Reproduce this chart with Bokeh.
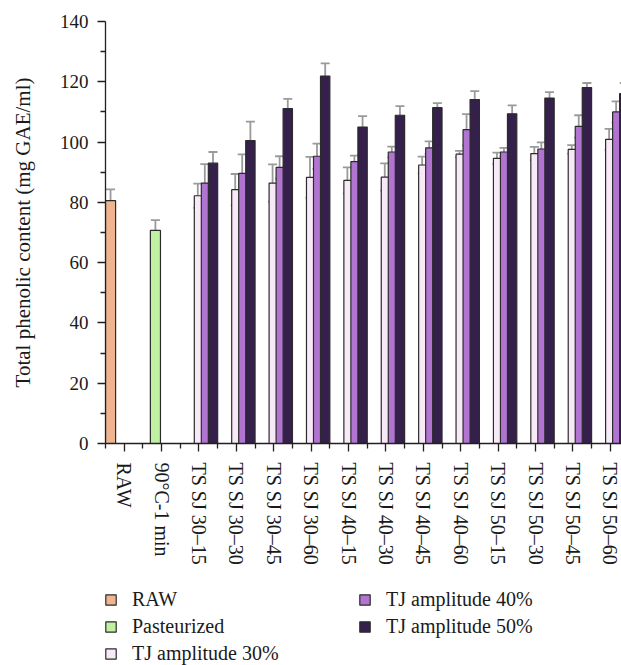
from bokeh.plotting import figure
from bokeh.layouts import column
from bokeh.models import (ColumnDataSource, FixedTicker, Range1d, Whisker,
                          TeeHead, Legend, LegendItem)
from bokeh.embed import file_html
from bokeh.resources import INLINE

# ---------------- data ----------------
categories = ["RAW", "90°C-1 min",
              "TS SJ 30–15", "TS SJ 30–30", "TS SJ 30–45", "TS SJ 30–60",
              "TS SJ 40–15", "TS SJ 40–30", "TS SJ 40–45", "TS SJ 40–60",
              "TS SJ 50–15", "TS SJ 50–30", "TS SJ 50–45", "TS SJ 50–60"]

raw_value = [80.6]
raw_err = [3.7]
past_value = [70.7]
past_err = [3.4]
tj30 = [82.2, 84.2, 86.4, 88.3, 87.3, 88.4, 92.4, 96.0, 94.6, 96.2, 97.6, 100.9]
tj30_err = [4.0, 5.2, 6.2, 6.8, 4.3, 4.5, 2.8, 1.1, 1.9, 2.2, 1.4, 3.5]
tj40 = [86.4, 89.6, 91.6, 95.3, 93.5, 96.7, 98.1, 104.1, 96.7, 97.7, 105.2, 110.0]
tj40_err = [6.3, 6.3, 3.7, 4.2, 2.0, 1.8, 2.1, 5.2, 1.4, 2.2, 3.7, 3.5]
tj50 = [93.0, 100.5, 111.1, 121.9, 105.0, 108.9, 111.4, 114.1, 109.4, 114.6, 118.1, 116.1]
tj50_err = [3.7, 6.3, 3.2, 4.2, 3.6, 3.0, 1.5, 2.8, 2.8, 2.0, 1.5, 3.5]

y_ticks = [0, 20, 40, 60, 80, 100, 120, 140]

series_names = ["RAW", "Pasteurized", "TJ amplitude 30%", "TJ amplitude 40%", "TJ amplitude 50%"]
colors = ["#EFB590", "#C0F1A2", "#F8E9F8", "#B274D1", "#34204A"]

# ---------------- layout of slots ----------------
# (left offset in category, bar width, visible width)
slots = [(0.0, 0.27, 0.27), (0.2, 0.27, 0.27),
         (0.375, 0.25, 0.1875), (0.5625, 0.25, 0.1875), (0.75, 0.25, 0.25)]
series = [
    ([0], raw_value, raw_err),
    ([1], past_value, past_err),
    (list(range(2, 14)), tj30, tj30_err),
    (list(range(2, 14)), tj40, tj40_err),
    (list(range(2, 14)), tj50, tj50_err),
]

FONT = "Liberation Serif"
TXT = "#1a1a1a"
AX = "#231F20"
OUTLINE = "#2b2b2b"

p = figure(width=621, height=575, output_backend="svg", toolbar_location=None,
           x_range=Range1d(0, 13.8), y_range=Range1d(0, 140),
           min_border_left=105, min_border_right=0, min_border_top=21,
           min_border_bottom=132)
p.outline_line_color = None
p.xgrid.visible = False
p.ygrid.visible = False

for (idx, vals, errs), (left, w, vis), col in zip(series, slots, colors):
    xs = [i + left + w / 2 for i in idx]
    src = ColumnDataSource(dict(x=xs, top=vals))
    p.vbar(x="x", top="top", bottom=0, width=w, source=src,
           fill_color=col, line_color=OUTLINE, line_width=1.2)

for (idx, vals, errs), (left, w, vis) in zip(series, slots):
    ex = [i + left + vis / 2 for i in idx]
    esrc = ColumnDataSource(dict(base=ex,
                                 upper=[v + e for v, e in zip(vals, errs)],
                                 lower=[v - e for v, e in zip(vals, errs)]))
    wh = Whisker(base="base", upper="upper", lower="lower", source=esrc,
                 line_color="#9a9a9a", line_width=1.8,
                 upper_head=TeeHead(size=9, line_color="#9a9a9a", line_width=1.8),
                 lower_head=TeeHead(size=9, line_color="#9a9a9a", line_width=1.8))
    p.add_layout(wh)

# ---------------- axes ----------------
xa = p.xaxis[0]
xa.ticker = FixedTicker(ticks=[i + 0.5 for i in range(len(categories))],
                        minor_ticks=[i for i in range(len(categories) + 1)])
xa.major_label_overrides = {i + 0.5: c for i, c in enumerate(categories)}
xa.major_label_orientation = "vertical"
xa.major_label_text_font = FONT
xa.major_label_text_font_size = "20px"
xa.major_label_text_color = TXT
xa.major_label_standoff = 11
xa.major_tick_in = 0
xa.major_tick_out = 8
xa.minor_tick_in = 0
xa.minor_tick_out = 5
xa.axis_line_color = AX
xa.major_tick_line_color = AX
xa.minor_tick_line_color = AX
xa.axis_line_width = 1.3
xa.major_tick_line_width = 1.3
xa.minor_tick_line_width = 1.3

ya = p.yaxis[0]
ya.ticker = FixedTicker(ticks=y_ticks, minor_ticks=[t + 10 for t in y_ticks[:-1]])
ya.major_label_text_font = FONT
ya.major_label_text_font_size = "19px"
ya.major_label_text_color = TXT
ya.major_label_standoff = 9
ya.major_tick_in = 0
ya.major_tick_out = 8
ya.minor_tick_in = 0
ya.minor_tick_out = 5
ya.axis_line_color = AX
ya.major_tick_line_color = AX
ya.minor_tick_line_color = AX
ya.axis_line_width = 1.3
ya.major_tick_line_width = 1.3
ya.minor_tick_line_width = 1.3
ya.axis_label = "Total phenolic content (mg GAE/ml)"
ya.axis_label_text_font = FONT
ya.axis_label_text_font_size = "21px"
ya.axis_label_text_font_style = "normal"
ya.axis_label_text_color = TXT
ya.axis_label_standoff = 22

# ---------------- legend panel (separate strip below) ----------------
lf = figure(width=621, height=90, output_backend="svg", toolbar_location=None,
            x_range=Range1d(0, 1), y_range=Range1d(0, 1),
            x_axis_location=None, y_axis_location=None,
            min_border_left=105, min_border_right=0, min_border_top=0,
            min_border_bottom=0)
lf.outline_line_color = None
lf.xgrid.visible = False
lf.ygrid.visible = False

dummies = []
for col in colors:
    # legend-only renderer: its single point lies outside the visible range
    r = lf.vbar(x=[-10], top=[-10], bottom=-11, width=0.1, fill_color=col,
                line_color=OUTLINE, line_width=1.2)
    dummies.append(r)


def make_legend(keys, loc):
    return Legend(items=[LegendItem(label=series_names[k], renderers=[dummies[k]]) for k in keys],
                  location=loc, orientation="vertical",
                  padding=0, margin=0, spacing=3, label_height=24,
                  glyph_width=13, glyph_height=13, label_standoff=15,
                  label_text_font=FONT, label_text_font_size="20px",
                  label_text_color=TXT, border_line_color=None,
                  background_fill_alpha=0)


lf.add_layout(make_legend([0, 1, 2], (-1, 0)), "center")
lf.add_layout(make_legend([3, 4], (253, 27)), "center")

layout = column(p, lf, spacing=0)

open("out.html", "w").write(file_html(layout, INLINE))
